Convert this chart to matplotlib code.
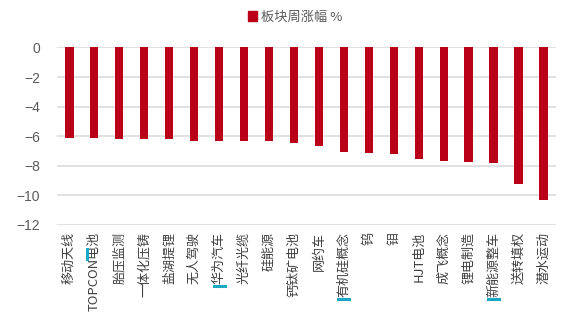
import matplotlib
matplotlib.use("Agg")
import matplotlib.pyplot as plt
from matplotlib.lines import Line2D
from matplotlib.patches import Patch

plt.rcParams['font.family'] = ['Noto Sans CJK SC', 'DejaVu Sans']

# 板块周涨幅（%）
sectors = ['移动天线', 'TOPCON电池', '胎压监测', '一体化压铸', '盐湖提锂', '无人驾驶',
           '华为汽车', '光纤光缆', '硅能源', '钙钛矿电池', '网约车', '有机硅概念',
           '钨', '钼', 'HJT电池', '成飞概念', '锂电制造', '新能源整车', '送转填权', '潜水运动']
weekly_change = [-6.13, -6.13, -6.2, -6.2, -6.2, -6.3, -6.3, -6.3, -6.35, -6.45,
                 -6.67, -7.05, -7.16, -7.19, -7.57, -7.68, -7.77, -7.84, -9.24, -10.34]
# 标注了光标的板块
marked = ['TOPCON电池', '华为汽车', '有机硅概念', '新能源整车']

bar_color = '#BA0018'
grid_color = '#DCDCDC'
text_color = '#595959'
mark_color = '#1BA8C4'

fig = plt.figure(figsize=(5.87, 3.27), dpi=100)
ax = fig.add_axes([0.097, 0.312, 0.85, 0.543])

x = range(len(sectors))
ax.bar(x, weekly_change, width=0.33, color=bar_color, zorder=3)

ax.set_ylim(-12, 0)
ax.set_yticks(range(-12, 1, 2))
ax.set_xlim(-0.5, len(sectors) - 0.5)
ax.set_xticks(list(x))
ax.set_xticklabels(sectors, rotation=90, fontsize=9.4, color='#404040')
ax.tick_params(axis='x', length=0, pad=5)
ax.tick_params(axis='y', length=0, pad=12, labelsize=10, labelcolor=text_color)
for lbl in ax.get_yticklabels():
    lbl.set_family(['Liberation Sans', 'DejaVu Sans'])

ax.grid(axis='y', color=grid_color, linewidth=1.2, zorder=0)
for side in ax.spines.values():
    side.set_visible(False)

fig.legend(handles=[Patch(color=bar_color)], labels=['板块周涨幅 %'],
           loc='center', bbox_to_anchor=(0.503, 0.948), frameon=False,
           fontsize=9.5, labelcolor=text_color, handlelength=0.7,
           handleheight=0.7, handletextpad=0.3)

# 光标标记：画在对应标签旁
fig.canvas.draw()
renderer = fig.canvas.get_renderer()
for lbl in ax.get_xticklabels():
    name = lbl.get_text()
    if name not in marked:
        continue
    bb = lbl.get_window_extent(renderer)
    if name.startswith('TOPCON'):
        y1 = bb.y1 - bb.height * 0.22
        y0 = bb.y1 - bb.height * 0.34
        fig.add_artist(Line2D([bb.x0 - 1, bb.x0 - 1], [y0, y1], transform=None,
                              color=mark_color, linewidth=2.2))
    else:
        fig.add_artist(Line2D([bb.x0 + 1, bb.x1 - 1], [bb.y0 - 2, bb.y0 - 2],
                              transform=None, color=mark_color, linewidth=2.2))

fig.savefig('out.png', dpi=100)
